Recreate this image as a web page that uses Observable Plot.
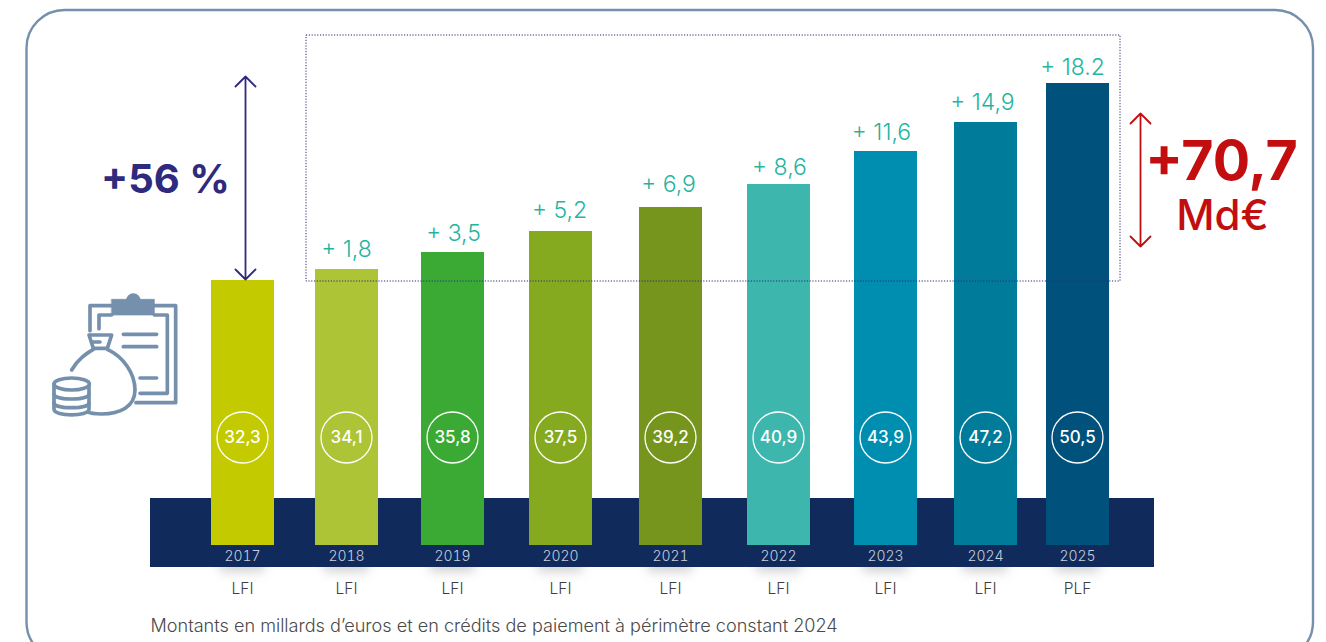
<!DOCTYPE html>
<html><head><meta charset="utf-8">
<script src="https://cdn.jsdelivr.net/npm/d3@7"></script>
<script src="https://cdn.jsdelivr.net/npm/@observablehq/plot@0.6"></script>
<style>
html,body{margin:0;padding:0;background:#fff;width:1326px;height:642px;overflow:hidden;position:relative}
#chart,#icon{position:absolute}
#chart{left:0;top:0}
#icon{left:30px;top:270px}
</style></head><body>
<div id="chart"></div>
<svg id="icon" width="260" height="170" viewBox="0 0 780 510" fill="none" stroke="#7590ad" stroke-width="11" stroke-linecap="round" stroke-linejoin="round">
  <path d="M245 107H180V182M373 107H437V398H318M245 135H207V176M373 135H412V370H330"/>
  <path d="M245 88H373V135H245Z" fill="#7590ad" stroke-width="2"/>
  <circle cx="310" cy="92" r="22" fill="#7590ad" stroke="none"/>
  <path d="M280 193H380M280 230H380M330 324H380"/>
  <path d="M125 300C145 265 170 250 190 238M232 238C280 260 315 310 315 360C315 410 270 432 215 432C195 432 180 430 170 425" />
  <path d="M177 195H245L232 235H190ZM188 216H210"/>
  <path d="M72 342V418C72 440 177 440 177 418V342" fill="#fff"/>
  <ellipse cx="125" cy="342" rx="53" ry="18" fill="#fff"/>
  <path d="M72 372C72 392 177 392 177 372M72 398C72 418 177 418 177 398"/>
</svg>
<script>
const years = [2017,2018,2019,2020,2021,2022,2023,2024,2025];
const stages = ["LFI","LFI","LFI","LFI","LFI","LFI","LFI","LFI","PLF"];
const totals = [32.3,34.1,35.8,37.5,39.2,40.9,43.9,47.2,50.5];
const totalLabels = ["32,3","34,1","35,8","37,5","39,2","40,9","43,9","47,2","50,5"];
const gains = ["","+ 1,8","+ 3,5","+ 5,2","+ 6,9","+ 8,6","+ 11,6","+ 14,9","+ 18.2"];
const barColors = ["#c4ca00","#acc436","#3aaa35","#86aa1f","#75951c","#3db6ad","#008eb0","#007c9a","#00517b"];

// Piecewise scales: the source picture spaces and sizes its bars unevenly.
const xDomain = [2016,...years,2026];
const xRange = [138,242,346,452,560,670,778,885,985,1077,1185];
const yDomain = [9,...totals,57.5];
const yRange = [545,280,269,252,231,207,184,151,122,83,0];
const xAt = d3.scaleLinear(xRange,xDomain);
const yAt = d3.scaleLinear(yRange,yDomain);

// Hand-placed gain labels, as in the source layout
const gainPlaceX = [0,346,453,559,668,779,881,982,1072];
const gainPlaceY = [0,249,233,210,184,167,132,102,67];

const rows = years.map((year,i)=>({year,stage:stages[i],total:totals[i],totalLabel:totalLabels[i],gain:gains[i],color:barColors[i],gx:xAt(gainPlaceX[i]),gy:yAt(gainPlaceY[i])}));
const font = "Inter, 'Open Sans', sans-serif";
const frameColor = "#7590ad", navy = "#102a5c", indigo = "#2e2a7d", red = "#c20e0e", teal = "#1fb5a0";

const doubleArrow = {draw(c,l){
  c.moveTo(0,0);c.lineTo(0,-l);
  c.moveTo(-10,-l+10);c.lineTo(0,-l);c.lineTo(10,-l+10);
  c.moveTo(-10,-10);c.lineTo(0,0);c.lineTo(10,-10);
}};

const plot = Plot.plot({
  width:1326,height:642,marginTop:0,marginLeft:0,marginRight:0,marginBottom:96,
  style:{fontFamily:font,background:"transparent"},
  x:{type:"linear",domain:xDomain,range:xRange,axis:null},
  y:{type:"linear",domain:yDomain,range:yRange,axis:null},
  marks:[
    // rounded panel
    Plot.rect([0],{x1:xAt(26.5),x2:xAt(1313),y1:yAt(10),y2:yAt(660),rx:38,fill:"none",stroke:frameColor,strokeWidth:2.4}),
    // soft shadows beneath the band
    Plot.rect(rows,{x1:"year",x2:"year",y1:yAt(558),y2:yAt(571),insetLeft:-22,insetRight:-22,fill:"#333",fillOpacity:.25,imageFilter:"blur(6px)"}),
    // navy band
    Plot.rect([0],{x1:xAt(150),x2:xAt(1154),y1:yAt(498),y2:yAt(567),fill:navy}),
    // bars
    Plot.rect(rows,{x1:"year",x2:"year",y1:yDomain[0],y2:"total",insetLeft:-31,insetRight:-32,fill:"color"}),
    // dotted gain box
    Plot.rect([0],{x1:xAt(306),x2:xAt(1120),y1:yAt(281),y2:yAt(35),fill:"none",stroke:indigo,strokeWidth:1,strokeDasharray:"1.2 1.6"}),
    // total values in rings
    Plot.dot(rows,{x:"year",y:yAt(437),r:25.5,fill:"none",stroke:"#fff",strokeWidth:1.3}),
    Plot.text(rows,{x:"year",y:yAt(437),text:"totalLabel",fill:"#fff",fontSize:17,fontWeight:500}),
    // gains above the bars
    Plot.text(rows,{x:"gx",y:"gy",text:"gain",fill:teal,fontSize:23,fontWeight:300}),
    // year and stage axes
    Plot.axisX(years,{tickSize:0,tickPadding:5,tickFormat:d=>String(d),fontSize:14,fontWeight:300,fill:"#c9d0dd",color:"#c9d0dd",label:null}),
    Plot.axisX(years,{tickSize:0,tickPadding:36,tickFormat:d=>stages[years.indexOf(d)],fontSize:15.5,fontWeight:300,fill:"#3f3f3f",color:"#3f3f3f",label:null}),
    // annotations
    Plot.vector([0],{x:xAt(245),y:yAt(279),length:203,anchor:"start",shape:doubleArrow,stroke:indigo,strokeWidth:1.8}),
    Plot.text(["+56 %"],{x:xAt(165),y:yAt(180),fill:indigo,fontSize:40,fontWeight:700}),
    Plot.vector([0],{x:xAt(1140),y:yAt(246),length:133,anchor:"start",shape:doubleArrow,stroke:red,strokeWidth:1.8}),
    Plot.text(["+70,7"],{x:xAt(1221),y:yAt(162),fill:red,fontSize:55.5,fontWeight:700}),
    Plot.text(["Md€"],{x:xAt(1222),y:yAt(216),fill:red,fontSize:42,fontWeight:500}),
    // source note
    Plot.text(["Montants en millards d’euros et en crédits de paiement à périmètre constant 2024"],{x:xAt(150),y:yAt(626),textAnchor:"start",fill:"#4a4a4a",fontSize:18.1,fontWeight:300})
  ]
});
document.getElementById("chart").append(plot);
</script>
</body></html>
